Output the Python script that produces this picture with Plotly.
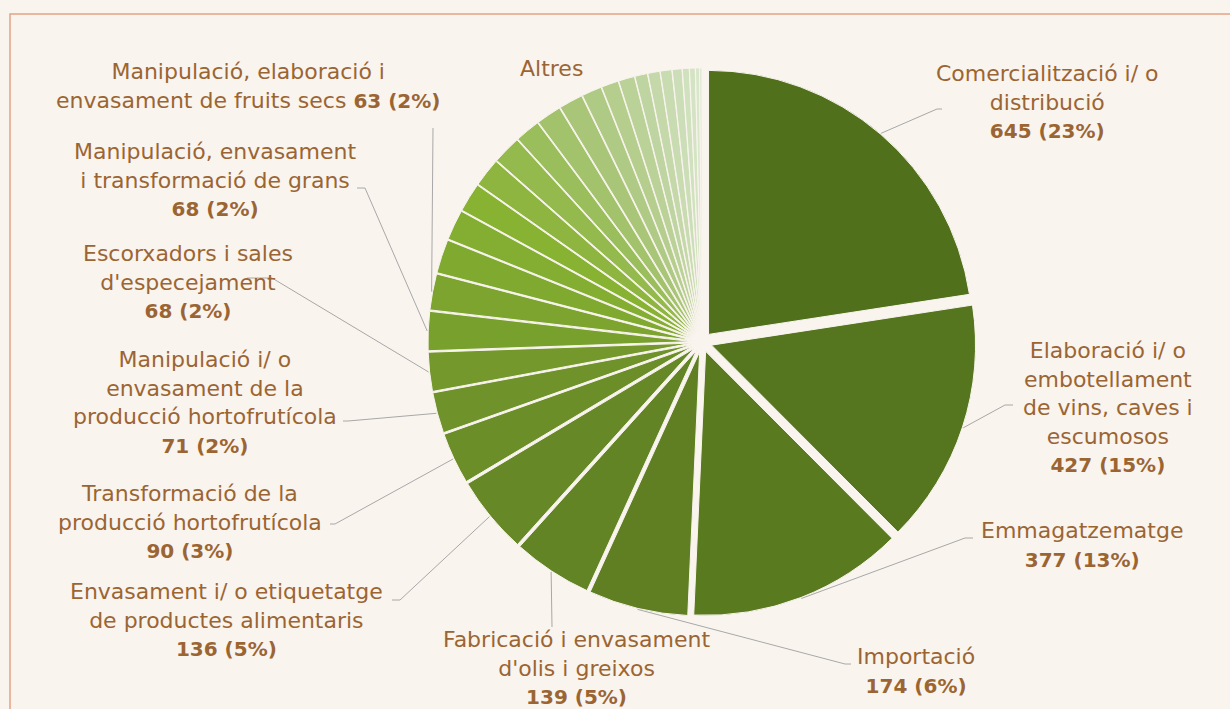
import math
import plotly.graph_objects as go

# ---------------- data ----------------
categories = [
    "Comercialització i/ o distribució",
    "Elaboració i/ o embotellament de vins, caves i escumosos",
    "Emmagatzematge",
    "Importació",
    "Fabricació i envasament d'olis i greixos",
    "Envasament i/ o etiquetatge de productes alimentaris",
    "Transformació de la producció hortofrutícola",
    "Manipulació i/ o envasament de la producció hortofrutícola",
    "Escorxadors i sales d'especejament",
    "Manipulació, envasament i transformació de grans",
    "Manipulació, elaboració i envasament de fruits secs",
] + [f"Altres {i}" for i in range(1, 20)]

values = [645, 427, 377, 174, 139, 136, 90, 71, 68, 68, 63,
          59, 53, 51, 50, 50, 44, 44, 42, 35, 30, 28, 22, 21, 20, 17, 12, 10, 7, 4]

# label text as printed on the chart (line breaks as in the picture)
label_lines = [
    ["Comercialització i/ o", "distribució"],
    ["Elaboració i/ o", "embotellament", "de vins, caves i", "escumosos"],
    ["Emmagatzematge"],
    ["Importació"],
    ["Fabricació i envasament", "d'olis i greixos"],
    ["Envasament i/ o etiquetatge", "de productes alimentaris"],
    ["Transformació de la", "producció hortofrutícola"],
    ["Manipulació i/ o", "envasament de la", "producció hortofrutícola"],
    ["Escorxadors i sales", "d'especejament"],
    ["Manipulació, envasament", "i transformació de grans"],
    ["Manipulació, elaboració i", "envasament de fruits secs"],
]
other_label = "Altres"

# ---------------- style / layout ----------------
W, H = 1230, 709
BG = "#F9F4EE"
TXT = "#9B6533"
LEAD = "#A8A8A8"
FONT = "DejaVu Sans"
FS = 22

colors = [
    "#51701C", "#55751E", "#5A7A20", "#5F7F22", "#638424", "#668826",
    "#6B8E29", "#6F932A", "#74982B", "#78A02D", "#7CA42E",
    "#80A92F", "#84AE31", "#87B232", "#8DB53F", "#94BA4D", "#9BBE5D",
    "#A2C26B", "#A9C678", "#AFCA84", "#B5CE8E", "#BAD298", "#BFD5A1",
    "#C4D8AA", "#C8DBB1", "#CCDEB8", "#D0E1BE", "#D4E3C4", "#D8E6CA", "#DCE8D0",
]

CX, CY, R = 702, 342, 264
PULL = 0.038
EXT = R * (1 + PULL)

def px(x):
    return x / W

def py(y):
    return 1 - y / H

fig = go.Figure(go.Pie(
    labels=categories,
    values=values,
    sort=False,
    direction="clockwise",
    rotation=0,
    pull=PULL,
    textinfo="none",
    hoverinfo="label+value+percent",
    marker=dict(colors=colors, line=dict(color=BG, width=1)),
    domain=dict(x=[px(CX - EXT), px(CX + EXT)], y=[py(CY + EXT), py(CY - EXT)]),
    showlegend=False,
))

total = sum(values)

# label placement (text block centre in px) and leader waypoints (px)
label_pos = [
    (1047, 102), (1108, 407), (1082, 545), (916, 671), (576, 668),
    (226, 620), (190, 522), (205, 402), (188, 282), (215, 180), (248, 86),
]
leader_pts = [
    [(937, 109), (942, 109)],
    [(1005, 405), (1013, 405)],
    [(965, 538), (973, 538)],
    [(845, 664), (851, 664)],
    [(552, 627)],
    [(400, 600), (392, 600)],
    [(335, 524), (330, 524)],
    [(348, 421), (343, 421)],
    [(272, 278), (247, 278)],
    [(365, 188), (357, 188)],
    [(433, 128)],
]

annotations = []
shapes = [dict(type="rect", xref="paper", yref="paper",
               x0=px(10), x1=1.02, y0=-0.02, y1=py(14),
               line=dict(color="#E2A383", width=1.5), fillcolor="rgba(0,0,0,0)",
               layer="below")]

cum = 0
for i, v in enumerate(values):
    mid = (cum + v / 2) / total * 2 * math.pi
    cum += v
    if i >= len(label_lines):
        continue
    pct = round(v / total * 100)
    lines = list(label_lines[i])
    val = f"<span style='font-size:20px'><b>{v} ({pct}%)</b></span>"
    if i == 10:
        lines[-1] = lines[-1] + " " + val
    else:
        lines.append(val)
    tx, ty = label_pos[i]
    annotations.append(dict(
        x=px(tx), y=py(ty), xref="paper", yref="paper",
        text="<br>".join(lines), showarrow=False, align="center",
        xanchor="center", yanchor="middle",
        font=dict(family=FONT, size=FS, color=TXT),
    ))
    sx = CX + (EXT + 1) * math.sin(mid)
    sy = CY - (EXT + 1) * math.cos(mid)
    pts = [(sx, sy)] + leader_pts[i]
    path = "M " + " L ".join(f"{px(a)},{py(b)}" for a, b in pts)
    shapes.append(dict(type="path", xref="paper", yref="paper", path=path,
                       line=dict(color=LEAD, width=1)))

annotations.append(dict(
    x=px(551), y=py(69), xref="paper", yref="paper", text=other_label,
    showarrow=False, xanchor="center", yanchor="middle",
    font=dict(family=FONT, size=FS, color=TXT),
))

fig.update_layout(
    width=W, height=H,
    margin=dict(l=0, r=0, t=0, b=0),
    paper_bgcolor=BG, plot_bgcolor=BG,
    annotations=annotations, shapes=shapes,
)

fig.write_html("out.html",
               config={"displayModeBar": False},
               post_script="document.body.style.margin='0';document.body.style.overflow='hidden';")
